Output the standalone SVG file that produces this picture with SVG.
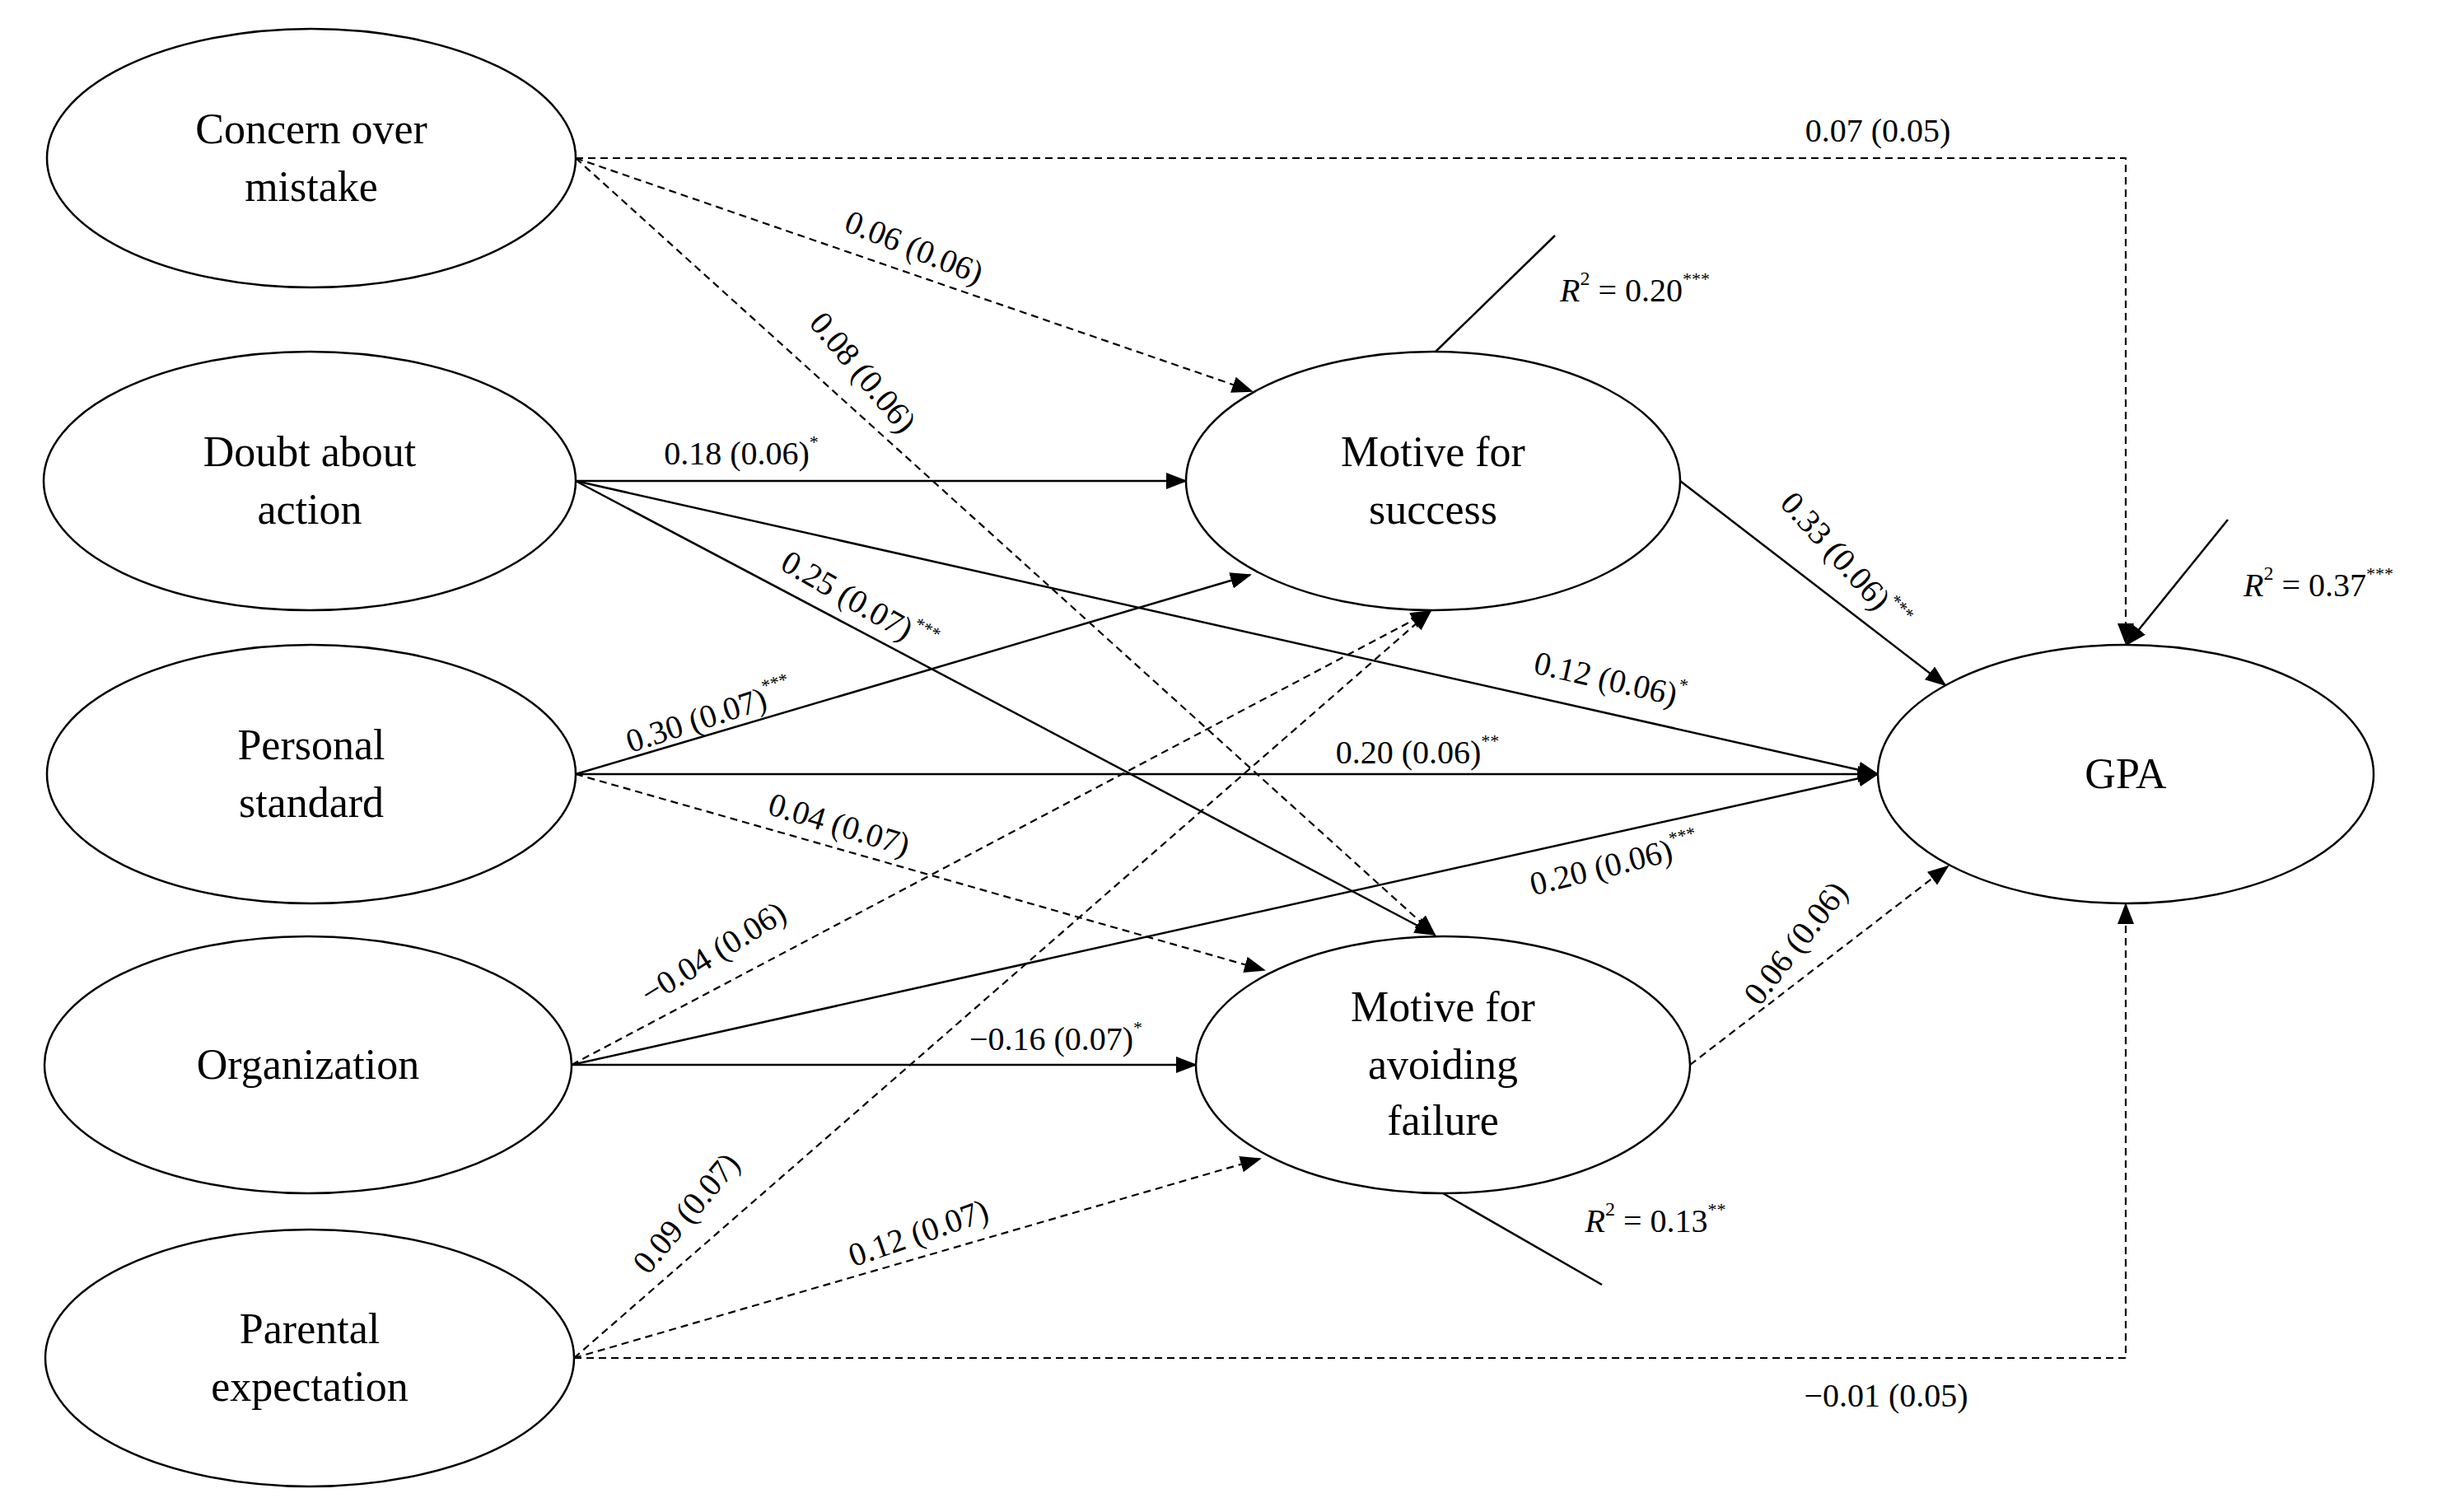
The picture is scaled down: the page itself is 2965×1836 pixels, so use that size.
<svg xmlns="http://www.w3.org/2000/svg" width="2965" height="1836" viewBox="0 0 2965 1836">
<style>
.n{fill:#fff;stroke:#000;stroke-width:2.5}
.t{font-family:"Liberation Serif",serif;font-size:52px;text-anchor:middle;fill:#000}
.l{font-family:"Liberation Serif",serif;font-size:40px;text-anchor:middle;dominant-baseline:central;fill:#000}
.s{stroke:#000;stroke-width:2.5;fill:none}
.d{stroke:#000;stroke-width:2.2;fill:none;stroke-dasharray:9 6}
</style>
<defs><marker id="a" markerUnits="userSpaceOnUse" markerWidth="26" markerHeight="20" refX="24" refY="10" orient="auto"><path d="M0,0 L26,10 L0,20 z" fill="#000"/></marker></defs>
<rect width="2965" height="1836" fill="#fff"/>
<g id="connectors">
<path class="d" d="M699,192 H2581 V781" marker-end="url(#a)"/>
<line class="d" x1="699" y1="192" x2="1520" y2="475" marker-end="url(#a)"/>
<line class="d" x1="699" y1="192" x2="1742" y2="1135" marker-end="url(#a)"/>
<line class="s" x1="699" y1="584" x2="1440" y2="584" marker-end="url(#a)"/>
<line class="s" x1="699" y1="584" x2="2280" y2="940" marker-end="url(#a)"/>
<line class="s" x1="699" y1="584" x2="1742" y2="1135" marker-end="url(#a)"/>
<line class="s" x1="699" y1="940" x2="1518" y2="698" marker-end="url(#a)"/>
<line class="s" x1="699" y1="940" x2="2280" y2="940" marker-end="url(#a)"/>
<line class="d" x1="699" y1="940" x2="1535" y2="1178" marker-end="url(#a)"/>
<line class="d" x1="694" y1="1293" x2="1737" y2="742" marker-end="url(#a)"/>
<line class="s" x1="694" y1="1293" x2="2280" y2="940" marker-end="url(#a)"/>
<line class="s" x1="694" y1="1293" x2="1452" y2="1293" marker-end="url(#a)"/>
<line class="d" x1="697" y1="1649" x2="1737" y2="742" marker-end="url(#a)"/>
<line class="d" x1="697" y1="1649" x2="1530" y2="1407" marker-end="url(#a)"/>
<path class="d" d="M697,1649 H2581 V1098" marker-end="url(#a)"/>
<line class="s" x1="2040" y1="584" x2="2362" y2="832" marker-end="url(#a)"/>
<line class="d" x1="2052" y1="1293" x2="2365" y2="1052" marker-end="url(#a)"/>
<line class="s" x1="1743" y1="427" x2="1888" y2="286"/>
<line class="s" x1="2705" y1="631" x2="2582" y2="783" marker-end="url(#a)"/>
<line class="s" x1="1752" y1="1449" x2="1945" y2="1560"/>
</g>
<g id="labels">
<text class="l" x="2280" y="158">0.07 (0.05)</text>
<text class="l" transform="translate(1110,300) rotate(22)">0.06 (0.06)</text>
<text class="l" transform="translate(1048,452) rotate(50)">0.08 (0.06)</text>
<text class="l" x="900" y="550">0.18 (0.06)<tspan font-size="22" dy="-14">*</tspan></text>
<text class="l" transform="translate(1955,825) rotate(13)">0.12 (0.06)<tspan font-size="22" dy="-14">*</tspan></text>
<text class="l" transform="translate(1043,731) rotate(30)">0.25 (0.07)<tspan font-size="22" dy="-14">***</tspan></text>
<text class="l" transform="translate(861,869) rotate(-18)">0.30 (0.07)<tspan font-size="22" dy="-14">***</tspan></text>
<text class="l" x="1721" y="913">0.20 (0.06)<tspan font-size="22" dy="-14">**</tspan></text>
<text class="l" transform="translate(1019,1001) rotate(17)">0.04 (0.07)</text>
<text class="l" transform="translate(866,1157) rotate(-32)">−0.04 (0.06)</text>
<text class="l" transform="translate(1960,1049) rotate(-14)">0.20 (0.06)<tspan font-size="22" dy="-14">***</tspan></text>
<text class="l" x="1282" y="1261">−0.16 (0.07)<tspan font-size="22" dy="-14">*</tspan></text>
<text class="l" transform="translate(833,1473) rotate(-50)">0.09 (0.07)</text>
<text class="l" transform="translate(1115,1497) rotate(-19)">0.12 (0.07)</text>
<text class="l" x="2290" y="1694">−0.01 (0.05)</text>
<text class="l" transform="translate(2240,681) rotate(48)">0.33 (0.06)<tspan font-size="22" dy="-14">***</tspan></text>
<text class="l" transform="translate(2180,1145) rotate(-52)">0.06 (0.06)</text>
<text class="l" x="1985" y="352"><tspan font-style="italic">R</tspan><tspan font-size="24" dy="-14">2</tspan><tspan dy="14"> = 0.20</tspan><tspan font-size="22" dy="-14">***</tspan></text>
<text class="l" x="2815" y="710"><tspan font-style="italic">R</tspan><tspan font-size="24" dy="-14">2</tspan><tspan dy="14"> = 0.37</tspan><tspan font-size="22" dy="-14">***</tspan></text>
<text class="l" x="2010" y="1482"><tspan font-style="italic">R</tspan><tspan font-size="24" dy="-14">2</tspan><tspan dy="14"> = 0.13</tspan><tspan font-size="22" dy="-14">**</tspan></text>
</g>
<g id="concern"><ellipse class="n" cx="378" cy="192" rx="321" ry="157"/><text class="t" x="378" y="174">Concern over</text><text class="t" x="378" y="244">mistake</text></g>
<g id="doubt"><ellipse class="n" cx="376" cy="584" rx="323" ry="157"/><text class="t" x="376" y="566">Doubt about</text><text class="t" x="376" y="636">action</text></g>
<g id="personal"><ellipse class="n" cx="378" cy="940" rx="321" ry="157"/><text class="t" x="378" y="922">Personal</text><text class="t" x="378" y="992">standard</text></g>
<g id="organization"><ellipse class="n" cx="374" cy="1293" rx="320" ry="156"/><text class="t" x="374" y="1310">Organization</text></g>
<g id="parental"><ellipse class="n" cx="376" cy="1649" rx="321" ry="156"/><text class="t" x="376" y="1631">Parental</text><text class="t" x="376" y="1701">expectation</text></g>
<g id="success"><ellipse class="n" cx="1740" cy="584" rx="300" ry="157"/><text class="t" x="1740" y="566">Motive for</text><text class="t" x="1740" y="636">success</text></g>
<g id="avoid"><ellipse class="n" cx="1752" cy="1293" rx="300" ry="156"/><text class="t" x="1752" y="1240">Motive for</text><text class="t" x="1752" y="1310">avoiding</text><text class="t" x="1752" y="1378">failure</text></g>
<g id="gpa"><ellipse class="n" cx="2581" cy="940" rx="301" ry="157"/><text class="t" x="2581" y="957">GPA</text></g>
</svg>
